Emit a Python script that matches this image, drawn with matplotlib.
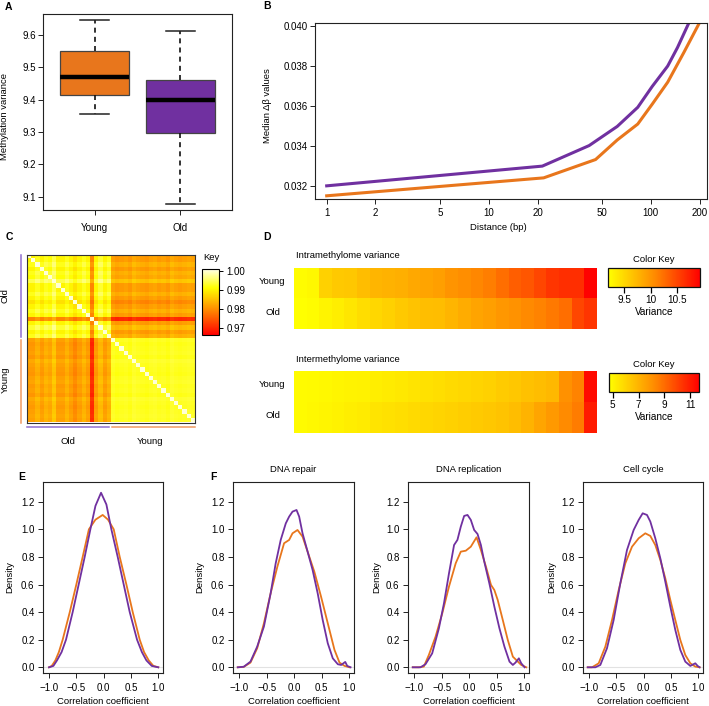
import numpy as np
import matplotlib.pyplot as plt
from matplotlib.colors import LinearSegmentedColormap, Normalize
from matplotlib.cm import ScalarMappable
from matplotlib.ticker import NullLocator, FormatStrFormatter

plt.rcParams['font.family'] = ['Liberation Sans', 'DejaVu Sans']

# ---- data ----
# A: box stats (whislo, q1, median, q3, whishi)
box_labels = ['Young', 'Old']
young_box = [9.355, 9.414, 9.470, 9.550, 9.646]
old_box = [9.078, 9.298, 9.400, 9.462, 9.612]

# B: median delta-beta vs distance
dist_old = [1, 21.4, 41.6, 62, 83, 102, 127, 146, 173]
dbeta_old = [0.0320, 0.03299, 0.03402, 0.03498, 0.03594, 0.03699, 0.03801, 0.03894, 0.04024]
dist_young = [1, 21.8, 45.6, 62, 83, 102, 127, 160, 200]
dbeta_young = [0.0315, 0.0324, 0.03332, 0.0343, 0.0351, 0.0361, 0.0372, 0.0387, 0.0402]

# C: per-sample correlation drop read from the row/column bands
old_drop = [0.004, 0.004, 0.002, 0.004, 0.002, 0.003, 0.0, 0.004, 0.004, 0.002,
            0.004, 0.006, 0.004, 0.002, 0.004, 0.015, 0.004, 0.001, 0.004, 0.002]
young_drop = [0.001, 0.002, 0.0015, 0.001, 0.002, 0.0, 0.001, 0.0015, 0.002, 0.001,
              0.0005, 0.0015, 0.001, 0.002, 0.0, 0.001, 0.0015, 0.001, 0.0005, 0.001]
old_old_base = 0.998
young_young_base = 0.9935
cross_base = 0.9865

# D: variance per quantile bin
intra_young = [9.22, 9.25, 9.55, 9.60, 9.62, 9.70, 9.75, 9.78, 9.80, 9.85, 9.88, 9.92,
               10.00, 10.05, 10.10, 10.15, 10.25, 10.35, 10.40, 10.50, 10.60, 10.65, 10.65, 10.92]
intra_old = [9.20, 9.22, 9.28, 9.32, 9.38, 9.45, 9.50, 9.55, 9.60, 9.65, 9.68, 9.70,
             9.75, 9.82, 9.88, 9.92, 9.98, 10.02, 10.08, 10.12, 10.18, 10.25, 10.50, 10.60]
inter_young = [4.8, 4.85, 4.9, 5.0, 5.05, 5.1, 5.2, 5.3, 5.4, 5.5, 5.6, 5.7,
               5.8, 5.9, 6.0, 6.1, 6.25, 6.4, 6.55, 6.7, 6.85, 8.0, 8.4, 11.4]
inter_old = [4.8, 4.9, 5.0, 5.1, 5.2, 5.3, 5.5, 5.6, 5.7, 5.8, 5.9, 6.0,
             6.1, 6.2, 6.3, 6.4, 6.5, 6.7, 7.0, 7.4, 7.8, 8.2, 8.6, 11.0]

# E/F: density curves (x, y)
E_old_x = [-1.0, -0.92, -0.854, -0.77, -0.689, -0.567, -0.457, -0.347, -0.243, -0.15, -0.048,
           0.05, 0.141, 0.257, 0.367, 0.477, 0.611, 0.70, 0.782, 0.88, 1.0]
E_old_y = [0.0, 0.01, 0.05, 0.11, 0.2, 0.4, 0.6, 0.8, 1.0, 1.17, 1.265,
           1.18, 1.0, 0.8, 0.6, 0.4, 0.2, 0.11, 0.05, 0.01, 0.0]
E_young_x = [-1.0, -0.95, -0.884, -0.82, -0.75, -0.62, -0.50, -0.384, -0.27, -0.15, -0.018,
             0.08, 0.184, 0.294, 0.416, 0.532, 0.66, 0.74, 0.825, 0.91, 1.0]
E_young_y = [0.0, 0.01, 0.05, 0.11, 0.2, 0.4, 0.6, 0.8, 1.0, 1.07, 1.104,
             1.07, 1.0, 0.8, 0.6, 0.4, 0.2, 0.11, 0.05, 0.01, 0.0]

F1_old_x = [-1.024, -0.915, -0.793, -0.671, -0.549, -0.427, -0.335, -0.244, -0.152, -0.091, -0.030,
            0.043, 0.091, 0.152, 0.244, 0.335, 0.427, 0.518, 0.610, 0.701, 0.793, 0.854, 0.927, 0.963, 1.024]
F1_old_y = [0.0, 0.004, 0.041, 0.150, 0.295, 0.536, 0.754, 0.923, 1.043, 1.092, 1.128,
            1.140, 1.092, 0.971, 0.838, 0.705, 0.536, 0.343, 0.174, 0.065, 0.022, 0.017, 0.039, 0.010, 0.0]
F1_young_x = [-1.024, -0.915, -0.793, -0.671, -0.549, -0.427, -0.305, -0.183, -0.091, -0.030,
              0.061, 0.152, 0.244, 0.366, 0.488, 0.610, 0.732, 0.823, 0.915, 1.006]
F1_young_y = [0.0, 0.003, 0.034, 0.138, 0.319, 0.536, 0.729, 0.899, 0.923, 0.971,
              0.995, 0.947, 0.838, 0.693, 0.512, 0.319, 0.126, 0.034, 0.010, 0.0]

F2_old_x = [-1.024, -0.884, -0.793, -0.671, -0.549, -0.457, -0.366, -0.274, -0.213, -0.152, -0.091,
            -0.030, 0.030, 0.091, 0.152, 0.213, 0.274, 0.366, 0.457, 0.549, 0.640, 0.732, 0.793,
            0.841, 0.902, 0.945, 1.006]
F2_old_y = [0.0, 0.0, 0.022, 0.101, 0.283, 0.464, 0.681, 0.886, 0.923, 1.019, 1.097,
            1.104, 1.068, 0.995, 0.966, 0.886, 0.766, 0.609, 0.440, 0.283, 0.150, 0.041, 0.017,
            0.034, 0.065, 0.029, 0.0]
F2_young_x = [-1.024, -0.915, -0.823, -0.732, -0.610, -0.488, -0.366, -0.244, -0.152, -0.061,
              0.030, 0.134, 0.213, 0.305, 0.396, 0.457, 0.518, 0.610, 0.701, 0.793, 0.854, 0.945, 1.037]
F2_young_y = [0.0, 0.0, 0.005, 0.089, 0.222, 0.391, 0.585, 0.754, 0.838, 0.845,
              0.874, 0.942, 0.850, 0.729, 0.597, 0.560, 0.488, 0.343, 0.198, 0.077, 0.053, 0.017, 0.0]

F3_old_x = [-1.024, -0.884, -0.793, -0.671, -0.549, -0.427, -0.305, -0.183, -0.091, -0.018,
            0.061, 0.122, 0.213, 0.305, 0.396, 0.488, 0.579, 0.671, 0.762, 0.854, 0.945, 0.988, 1.024]
F3_old_y = [0.0, 0.0, 0.017, 0.138, 0.343, 0.609, 0.850, 0.995, 1.068, 1.116,
            1.104, 1.056, 0.935, 0.790, 0.621, 0.440, 0.271, 0.126, 0.041, 0.010, 0.029, 0.010, 0.0]
F3_young_x = [-1.024, -0.945, -0.823, -0.701, -0.579, -0.457, -0.335, -0.213, -0.091, 0.030,
              0.122, 0.213, 0.305, 0.396, 0.488, 0.579, 0.671, 0.762, 0.854, 0.945, 1.024]
F3_young_y = [0.0, 0.0, 0.029, 0.150, 0.343, 0.560, 0.754, 0.874, 0.935, 0.971,
              0.952, 0.886, 0.778, 0.645, 0.488, 0.343, 0.198, 0.089, 0.029, 0.005, 0.0]

density_titles = ['', 'DNA repair', 'DNA replication', 'Cell cycle']
corr_ticks = [-1.0, -0.5, 0.0, 0.5, 1.0]

ORANGE = '#E8761C'
PURPLE = '#7030A0'
FS = 6.8
TFS = 7.0
W, H = 709, 706

fig = plt.figure(figsize=(W / 100, H / 100), dpi=100)


def px_axes(x0, y0, x1, y1):
    return fig.add_axes([x0 / W, 1 - y1 / H, (x1 - x0) / W, (y1 - y0) / H])


def px_text(x, y, s, **kw):
    kw.setdefault('fontsize', FS)
    kw.setdefault('ha', 'center')
    kw.setdefault('va', 'center')
    fig.text(x / W, 1 - y / H, s, **kw)


def style(ax, xpad=2.0, ypad=2.0, length=3.6):
    for sp in ax.spines.values():
        sp.set_linewidth(0.8)
        sp.set_color('#222222')
    ax.tick_params(axis='both', labelsize=TFS, length=length, width=0.7, color='#222222')
    ax.tick_params(axis='x', pad=xpad)
    ax.tick_params(axis='y', pad=ypad)


# ---- A ----
ax = px_axes(43, 14, 232, 210)
stats = []
for lab, b in zip(box_labels, [young_box, old_box]):
    stats.append(dict(label=lab, whislo=b[0], q1=b[1], med=b[2], q3=b[3], whishi=b[4]))
bp = ax.bxp(stats, positions=[1, 2], widths=0.8, patch_artist=True, showfliers=False,
            capwidths=0.34,
            boxprops=dict(linewidth=0.9, edgecolor='#444444'),
            medianprops=dict(color='black', linewidth=3.2),
            whiskerprops=dict(linestyle=(0, (3, 2.5)), linewidth=1.2, color='#111111'),
            capprops=dict(linewidth=1.1, color='#222222'))
for patch, c in zip(bp['boxes'], [ORANGE, PURPLE]):
    patch.set_facecolor(c)
ax.set_xlim(0.4, 2.6)
ax.set_ylim(9.059, 9.665)
ax.set_yticks([9.1, 9.2, 9.3, 9.4, 9.5, 9.6])
style(ax, xpad=6, ypad=1.5)
px_text(5, 116, 'Methylation variance', rotation=90)

# ---- B ----
ax = px_axes(315, 23, 707, 199)
ax.set_xscale('log')
ax.plot(dist_old, dbeta_old, color=PURPLE, lw=2.2, solid_joinstyle='round')
ax.plot(dist_young, dbeta_young, color=ORANGE, lw=2.2, solid_joinstyle='round')
ax.set_xlim(0.847, 222)
ax.set_ylim(0.03134, 0.04017)
ax.xaxis.set_minor_locator(NullLocator())
ax.set_xticks([1, 2, 5, 10, 20, 50, 100, 200])
ax.set_xticklabels(['1', '2', '5', '10', '20', '50', '100', '200'])
ax.set_yticks([0.032, 0.034, 0.036, 0.038, 0.040])
ax.yaxis.set_major_formatter(FormatStrFormatter('%.3f'))
style(ax, xpad=3, ypad=1.5)
px_text(268, 106, 'Median Δβ values', rotation=90)
px_text(498, 227, 'Distance (bp)')

# ---- C ----
od = np.array(old_drop)
yd = np.array(young_drop)
oo = old_old_base - (od[:, None] + od[None, :])
oy = cross_base - od[:, None] - yd[None, :]
yy = young_young_base - 0.5 * (yd[:, None] + yd[None, :])
corr = np.block([[oo, oy], [oy.T, yy]])
np.fill_diagonal(corr, 1.0)
n_old = len(old_drop)
n_all = corr.shape[0]

c_lo, c_hi = 0.9662, 1.0007
cmap_c = LinearSegmentedColormap.from_list(
    'keyc', [(0.0, '#FF0000'),
             ((0.980 - c_lo) / (c_hi - c_lo), '#FF9000'),
             ((0.991 - c_lo) / (c_hi - c_lo), '#FFFF00'),
             (1.0, '#FFFFE6')])
ax = px_axes(27, 254.5, 194.5, 422.5)
ax.imshow(corr, cmap=cmap_c, vmin=c_lo, vmax=c_hi, aspect='auto', interpolation='nearest')
ax.set_xticks([])
ax.set_yticks([])
for sp in ax.spines.values():
    sp.set_linewidth(0.8)
    sp.set_color('#333333')
gl = -0.5 - 1.45
ax.plot([gl, gl], [-0.5, n_old - 0.9], color='#8F6FD0', lw=1.1, clip_on=False)
ax.plot([gl, gl], [n_old - 0.1, n_all - 0.5], color='#F09A60', lw=1.1, clip_on=False)
gb = n_all - 0.5 + 1.07
ax.plot([-0.5, n_old - 0.9], [gb, gb], color='#8F6FD0', lw=1.1, clip_on=False)
ax.plot([n_old - 0.1, n_all - 0.5], [gb, gb], color='#F09A60', lw=1.1, clip_on=False)
ax.set_xlim(-0.5, n_all - 0.5)
ax.set_ylim(n_all - 0.5, -0.5)
px_text(5, 296, 'Old', rotation=90)
px_text(5, 380, 'Young', rotation=90)
px_text(68, 441, 'Old')
px_text(150, 441, 'Young')

cax = px_axes(202, 269.3, 219.3, 335)
cb = fig.colorbar(ScalarMappable(Normalize(c_lo, c_hi), cmap_c), cax=cax,
                  ticks=[0.97, 0.98, 0.99, 1.00], format='%.2f')
cb.outline.set_linewidth(0.8)
cax.tick_params(labelsize=TFS, length=3, width=0.7, pad=2)
px_text(211, 257, 'Key')

# ---- D ----
heat = LinearSegmentedColormap.from_list('heat', ['#FFFF00', '#FF8C00', '#FF0000'])
d_panels = [
    (intra_young, intra_old, 267.7, 329, 256, 'Intramethylome variance',
     (9.196, 10.94), [9.5, 10, 10.5], ['9.5', '10', '10.5'], (608.3, 267.7, 700, 287)),
    (inter_young, inter_old, 371, 432.7, 360, 'Intermethylome variance',
     (4.69, 11.69), [5, 7, 9, 11], ['5', '7', '9', '11'], (608.7, 372.7, 699.3, 391.7)),
]
for yv, ov, top, bot, ty, title, lim, ticks, tlabels, cb_box in d_panels:
    ax = px_axes(294.3, top, 597.3, bot)
    ax.imshow(np.array([yv, ov]), cmap=heat, vmin=lim[0], vmax=lim[1], aspect='auto',
              interpolation='nearest')
    ax.set_axis_off()
    rh = (bot - top) / 2
    px_text(272.5, top + rh * 0.45, 'Young')
    px_text(272.5, top + rh * 1.45, 'Old')
    px_text(296, ty, title, ha='left')
    cax = px_axes(*cb_box)
    cb = fig.colorbar(ScalarMappable(Normalize(*lim), heat), cax=cax,
                      orientation='horizontal', ticks=ticks)
    cb.set_ticklabels(tlabels)
    cb.outline.set_linewidth(0.9)
    cb.outline.set_edgecolor('#111111')
    cax.tick_params(labelsize=7.2, length=4.2, width=0.9, pad=1.5)
    cx = (cb_box[0] + cb_box[2]) / 2
    px_text(cx, cb_box[1] - 8.5, 'Color Key')
    px_text(cx, cb_box[3] + 25, 'Variance', fontsize=7.2)

# ---- E / F ----
dens = [
    (43, 163, E_old_x, E_old_y, E_young_x, E_young_y, 10),
    (233, 354, F1_old_x, F1_old_y, F1_young_x, F1_young_y, 200),
    (408, 529, F2_old_x, F2_old_y, F2_young_x, F2_young_y, 377),
    (583, 703, F3_old_x, F3_old_y, F3_young_x, F3_young_y, 552),
]
for (x0, x1, ox, oyv, yx, yyv, ylx), title in zip(dens, density_titles):
    ax = px_axes(x0, 481.7, x1, 673.3)
    ax.axhline(0, color='#E2E2E2', lw=0.8, zorder=0)
    ax.plot(yx, yyv, color=ORANGE, lw=1.3, solid_joinstyle='round')
    ax.plot(ox, oyv, color=PURPLE, lw=1.3, solid_joinstyle='round')
    ax.set_xlim(-1.11, 1.086)
    ax.set_ylim(-0.0435, 1.345)
    ax.set_xticks(corr_ticks, labels=[f'{t:.1f}'.replace('-', '\u2212') for t in corr_ticks])
    ax.set_yticks([0.0, 0.2, 0.4, 0.6, 0.8, 1.0, 1.2])
    ax.yaxis.set_major_formatter(FormatStrFormatter('%.1f'))
    style(ax, xpad=3.2, ypad=2.5)
    px_text((x0 + x1) / 2, 701.5, 'Correlation coefficient')
    px_text(ylx, 577, 'Density', rotation=90)
    if title:
        px_text((x0 + x1) / 2, 469, title)

# panel letters
for letter, (lx, ly) in zip('ABCDEF', [(8, 7), (267, 6), (9, 237), (267, 237), (22, 477), (213, 477)]):
    px_text(lx, ly, letter, fontsize=7.5, fontweight='bold')

fig.savefig('out.png', dpi=100)
